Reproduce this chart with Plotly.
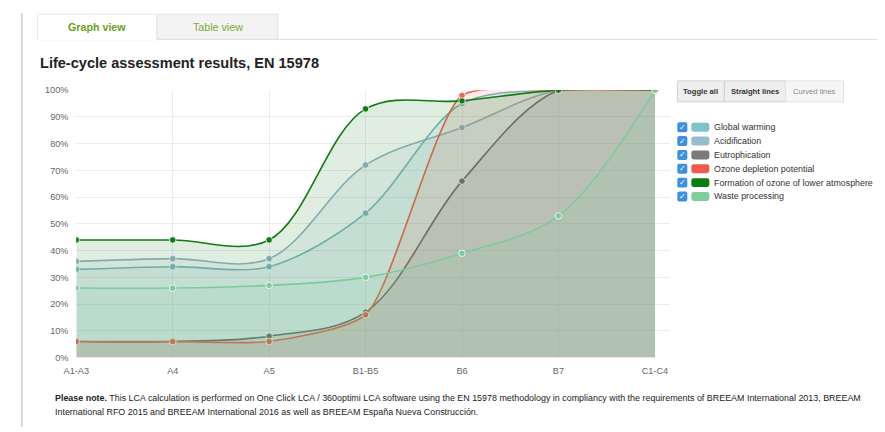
import plotly.graph_objects as go

categories = ["A1-A3", "A4", "A5", "B1-B5", "B6", "B7", "C1-C4"]
series_names = ["Global warming", "Acidification", "Eutrophication",
                "Ozone depletion potential", "Formation of ozone of lower atmosphere",
                "Waste processing"]
global_warming = [33, 34, 34, 54, 95, 100, 100]
acidification = [36, 37, 37, 72, 86, 100, 100]
eutrophication = [6, 6, 8, 17, 66, 100, 100]
ozone_depletion = [6, 6, 6, 16, 98, 100, 100]
ozone_formation = [44, 44, 44, 93, 96, 100, 100]
waste_processing = [26, 26, 27, 30, 39, 53, 100]
y_ticks = [0, 10, 20, 30, 40, 50, 60, 70, 80, 90, 100]

all_values = [global_warming, acidification, eutrophication,
              ozone_depletion, ozone_formation, waste_processing]
line_colors = ["#74b9bf", "#93b3c4", "#6f706d", "#e8664f", "#117a14", "#7dcb9a"]
swatch_colors = ["#7cc4ca", "#98bccd", "#7a7a7a", "#f05a4a", "#0b7d12", "#7fcc9c"]
smooth = [0.9, 1.0, 1.0, 0.6, 1.0, 1.0]
fill_alpha = 0.13

def hex_rgba(h, a):
    h = h.lstrip("#")
    return "rgba(%d,%d,%d,%s)" % (int(h[0:2], 16), int(h[2:4], 16), int(h[4:6], 16), a)

# measured mapping of the viewer: screen = A + S * page ; figure sits at page (8, 8)
OFF = 8
W, H = 885 - OFF, 432 - OFF
AX, SX = 13.6, 0.984
AY, SY = 4.0, 0.980
FS = 1 / 0.982
FONT = "Liberation Sans, Arial, Helvetica, sans-serif"

def X(p):
    return ((p - AX) / SX - OFF) / W

def Y(p):
    return 1 - ((p - AY) / SY - OFF) / H

fig = go.Figure()
xs = list(range(len(categories)))
for name, vals, lc, sm in zip(series_names, all_values, line_colors, smooth):
    fig.add_trace(go.Scatter(
        x=xs, y=vals, name=name, mode="lines+markers",
        line=dict(color=lc, width=1.6, shape="spline", smoothing=sm),
        marker=dict(size=6.5, color=lc, line=dict(color="rgba(255,255,255,0.8)", width=1)),
        fill="tozeroy", fillcolor=hex_rgba(lc, fill_alpha),
        hoverinfo="skip", showlegend=False,
    ))

x0p, x1p = 76.7, 670.0
ytop, ybot = 89.3, 357.7

fig.update_layout(
    width=W, height=H, autosize=False,
    margin=dict(l=0, r=0, t=0, b=0),
    paper_bgcolor="white", plot_bgcolor="white",
    font=dict(family=FONT, color="#333"),
    showlegend=False,
    xaxis=dict(domain=[X(x0p), X(x1p)], range=[0, 6.16],
               tickvals=xs, ticktext=categories,
               tickfont=dict(size=9 * FS, color="#666"),
               ticks="outside", ticklen=4, tickcolor="rgba(0,0,0,0)",
               showgrid=True, gridcolor="#ececec", gridwidth=1,
               zeroline=False, showline=False, fixedrange=True),
    yaxis=dict(domain=[Y(ybot), Y(ytop)], range=[0, 100],
               tickvals=y_ticks, ticktext=[f"{v}%" for v in y_ticks],
               tickfont=dict(size=9 * FS, color="#666"),
               ticks="outside", ticklen=5, tickcolor="rgba(0,0,0,0)",
               showgrid=True, gridcolor="#ececec", gridwidth=1,
               zeroline=False, showline=False, fixedrange=True),
)

shapes = []
annotations = []

def px_rect(x0, y0, x1, y1, fill, line="rgba(0,0,0,0)", lw=1, layer="above"):
    shapes.append(dict(type="rect", xref="paper", yref="paper",
                       x0=X(x0), x1=X(x1), y0=Y(y1), y1=Y(y0),
                       fillcolor=fill, line=dict(color=line, width=lw), layer=layer))

def px_line(x0, y0, x1, y1, color, lw=1):
    shapes.append(dict(type="line", xref="paper", yref="paper",
                       x0=X(x0), x1=X(x1), y0=Y(y0), y1=Y(y1),
                       line=dict(color=color, width=lw)))

def rounded(x0, y0, x1, y1, r, fill):
    def P(x, y):
        return "%f,%f" % (X(x), Y(y))
    path = ("M %s L %s Q %s %s L %s Q %s %s L %s Q %s %s L %s Q %s %s Z" % (
        P(x0 + r, y0), P(x1 - r, y0), P(x1, y0), P(x1, y0 + r), P(x1, y1 - r),
        P(x1, y1), P(x1 - r, y1), P(x0 + r, y1), P(x0, y1), P(x0, y1 - r),
        P(x0, y0 + r), P(x0, y0), P(x0 + r, y0)))
    shapes.append(dict(type="path", xref="paper", yref="paper", path=path,
                       fillcolor=fill, line=dict(width=0), layer="above"))

def text(x, y, s, size, color="#333", anchor="left", bold=False):
    if bold:
        s = "<b>" + s + "</b>"
    annotations.append(dict(xref="paper", yref="paper", x=X(x), y=Y(y),
                            text=s, showarrow=False, xanchor=anchor, yanchor="middle",
                            font=dict(size=size * FS, color=color, family=FONT)))

# page border on the left (as far left as the page allows)
shapes.append(dict(type="line", xref="paper", yref="paper", x0=0.001, x1=0.001, y0=0, y1=1,
                   line=dict(color="#cfcfcf", width=1.5)))

# tabs
px_line(157, 38.5, 885, 38.5, "#dddddd", 1)
px_rect(158, 13, 278, 38, "#f3f3f3", "#e3e3e3", 1)
px_rect(38, 13, 157, 39, "#ffffff", "#e8e8e8", 1)
px_line(38.5, 38.5, 156.5, 38.5, "#ffffff", 2)
text(97.5, 26, "Graph view", 10.5, "#69a320", "center", True)
text(218, 26, "Table view", 10.5, "#76ad35", "center")

# title
text(38, 62, "Life-cycle assessment results, EN 15978", 14.3, "#222", "left", True)

# buttons
px_rect(677, 80, 724, 101, "#eeeeee", "#d0d0d0", 1)
px_rect(724, 80, 785, 101, "#eeeeee", "#d0d0d0", 1)
px_rect(785, 80, 843, 101, "#f6f6f6", "#e2e2e2", 1)
text(700.5, 91, "Toggle all", 7.5, "#333", "center", True)
text(754.5, 91, "Straight lines", 7.5, "#333", "center", True)
text(814, 91, "Curved lines", 7.5, "#8a8a8a", "center")

# custom legend
for i, (name, sc) in enumerate(zip(series_names, swatch_colors)):
    yc = 126.5 + i * 13.9
    rounded(677, yc - 5, 687, yc + 5, 2, "#3d8fe0")
    text(682, yc, "✓", 7.5, "#ffffff", "center")
    rounded(691, yc - 4.5, 709, yc + 4.5, 2.5, sc)
    text(712, yc, name, 8.7, "#333", "left")

# footnote
note1 = ("<b>Please note.</b> This LCA calculation is performed on One Click LCA / 360optimi LCA "
         "software using the EN 15978 methodology in compliancy with the requirements of "
         "BREEAM International 2013, BREEAM")
note2 = ("International RFO 2015 and BREEAM International 2016 as well as BREEAM España "
         "Nueva Construcción.")
text(53, 398, note1, 8.75, "#222", "left")
text(53, 412, note2, 8.75, "#222", "left")

fig.update_layout(shapes=shapes, annotations=annotations)
fig.write_html("out.html")
